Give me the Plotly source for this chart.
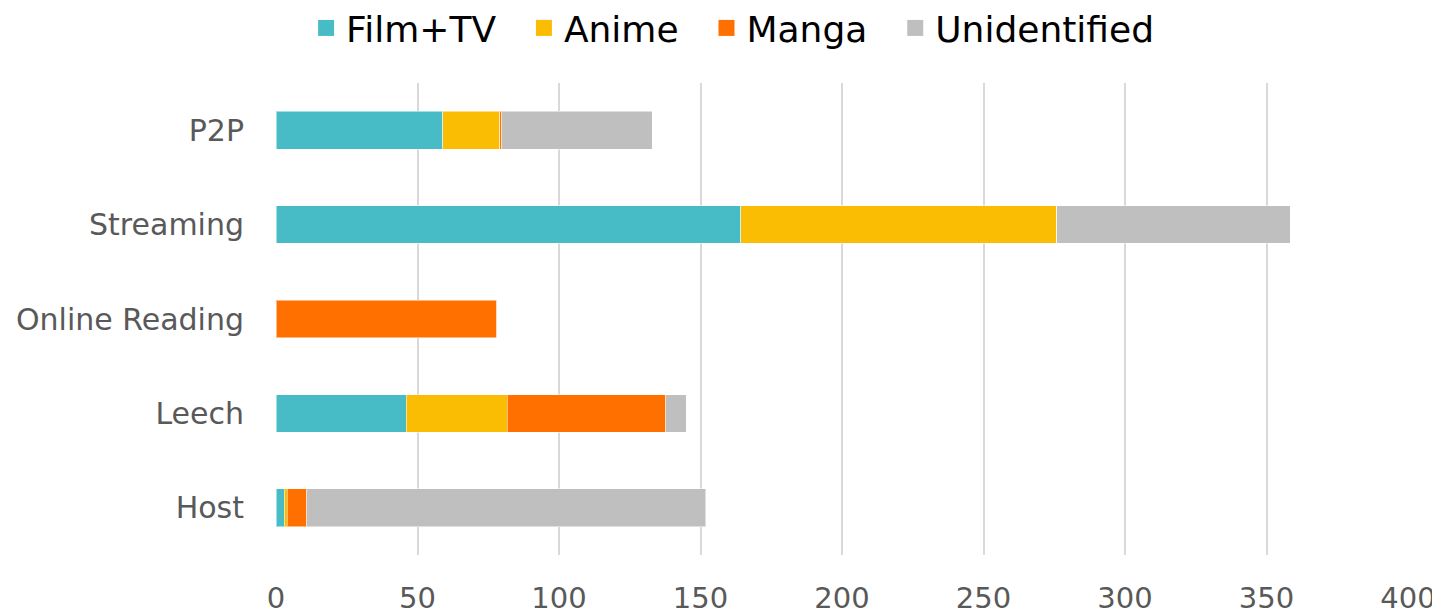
import plotly.graph_objects as go

categories = ["P2P", "Streaming", "Online Reading", "Leech", "Host"]
series_names = ["Film+TV", "Anime", "Manga", "Unidentified"]
film_tv = [58.9, 164.2, 0, 46.0, 2.9]
anime = [20.2, 111.6, 0, 35.8, 1.0]
manga = [0.7, 0, 78.0, 55.9, 7.0]
unidentified = [53.1, 82.6, 0, 7.3, 140.9]
x_ticks = [0, 50, 100, 150, 200, 250, 300, 350, 400]

colors = ["#48BCC6", "#FBBC04", "#FF7000", "#BFBFBF"]
values = [film_tv, anime, manga, unidentified]
legend_pad = ["\u00a0\u00a0", "\u00a0\u00a0", "\u00a0\u00a0", ""]

fig = go.Figure()
for name, vals, col in zip(series_names, values, colors):
    fig.add_trace(go.Bar(
        y=categories, x=vals, name=name, orientation="h",
        marker=dict(color=col, line=dict(color="rgba(255,255,255,0.5)", width=1)),
        width=0.4, showlegend=False,
    ))
for name, col, pad in zip(series_names, colors, legend_pad):
    fig.add_trace(go.Scatter(
        x=[None], y=[None], mode="markers", name=name + pad,
        marker=dict(symbol="square", size=22, color=col),
        showlegend=True,
    ))

fig.update_layout(
    barmode="stack",
    width=1432, height=607,
    margin=dict(l=268, r=32, t=75, b=60),
    paper_bgcolor="white", plot_bgcolor="white",
    font=dict(family="DejaVu Sans", color="#595959"),
    legend=dict(
        orientation="h", xref="container", yref="container",
        x=0.506, xanchor="center", y=0.967, yanchor="middle",
        font=dict(size=36, color="black"),
        itemsizing="trace", itemwidth=30, traceorder="normal",
    ),
    xaxis=dict(
        range=[0, 400], tickvals=x_ticks, showgrid=True,
        gridcolor="#D9D9D9", gridwidth=1.5, zeroline=False,
        showline=False, tickfont=dict(size=29, color="#595959"),
        ticklabelstandoff=23, automargin=False,
    ),
    yaxis=dict(
        categoryorder="array", categoryarray=categories[::-1],
        showgrid=False, zeroline=False, showline=False,
        tickfont=dict(size=30, color="#595959"),
        ticklabelstandoff=31, automargin=False,
    ),
)

fig.write_html("out.html")
